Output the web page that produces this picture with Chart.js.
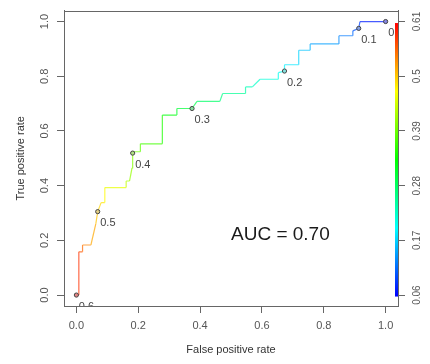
<!DOCTYPE html>
<html><head><meta charset="utf-8">
<script src="https://cdn.jsdelivr.net/npm/chart.js@4/dist/chart.umd.min.js"></script>
<style>html,body{margin:0;padding:0;background:#fff;}canvas{display:block;}</style>
</head><body>
<canvas id="c" width="430" height="364"></canvas>
<script>
// ROC curve vertices (false positive rate, true positive rate) and cutoff at each vertex
const fpr = [0, 0.008, 0.008, 0.020, 0.020, 0.047, 0.063, 0.069, 0.080, 0.092, 0.092, 0.161, 0.161, 0.172, 0.180, 0.182,
  0.182, 0.207, 0.207, 0.278, 0.278, 0.325, 0.325, 0.374, 0.390, 0.464, 0.473, 0.547, 0.547, 0.569, 0.594, 0.653, 0.653,
  0.673, 0.673, 0.719, 0.719, 0.756, 0.756, 0.849, 0.849, 0.894, 0.894, 0.913, 0.917, 1.000];
const tpr = [0, 0, 0.158, 0.158, 0.183, 0.183, 0.261, 0.305, 0.338, 0.338, 0.393, 0.393, 0.417, 0.417, 0.465, 0.519,
  0.524, 0.524, 0.553, 0.553, 0.658, 0.658, 0.682, 0.682, 0.708, 0.708, 0.737, 0.737, 0.761, 0.761, 0.789, 0.789, 0.813,
  0.819, 0.842, 0.842, 0.895, 0.895, 0.918, 0.918, 0.948, 0.948, 0.966, 0.975, 1.0, 1.0];
const cutoff = [0.61, 0.60, 0.57, 0.56, 0.55, 0.53, 0.51, 0.50, 0.49, 0.48, 0.47, 0.45, 0.43, 0.42, 0.41, 0.40,
  0.395, 0.39, 0.38, 0.36, 0.34, 0.32, 0.31, 0.30, 0.29, 0.27, 0.26, 0.25, 0.24, 0.23, 0.225, 0.21, 0.205,
  0.20, 0.19, 0.18, 0.17, 0.16, 0.15, 0.14, 0.13, 0.12, 0.11, 0.10, 0.09, 0.06];
// Printed cutoffs: vertex index and label
const markIndex = [0, 7, 15, 23, 33, 43, 45];
const markLabels = ['0.6', '0.5', '0.4', '0.3', '0.2', '0.1', '0'];
// Axes
const xTicks = [0, 0.2, 0.4, 0.6, 0.8, 1.0];
const yTicks = [0, 0.2, 0.4, 0.6, 0.8, 1.0];
const cbTicks = [0.06, 0.17, 0.28, 0.39, 0.5, 0.61];
const cbLabels = ['0.06', '0.17', '0.28', '0.39', '0.5', '0.61'];
const aucText = 'AUC = 0.70';
const xTitle = 'False positive rate';
const yTitle = 'True positive rate';

const FONT = "'Liberation Sans', Arial, sans-serif";
const cMin = cbTicks[0], cMax = cbTicks[cbTicks.length - 1];
const PAD = 0.04;
function hueOf(c) { let t = (cMax - c) / (cMax - cMin); t = Math.max(0, Math.min(1, t)); return t * 240; }
function lineColor(c) { return 'hsl(' + hueOf(c).toFixed(1) + ',100%,64%)'; }
function pointFill(c) { return 'hsl(' + hueOf(c).toFixed(1) + ',60%,70%)'; }
function barColor(c) { return 'hsl(' + hueOf(c).toFixed(1) + ',100%,50%)'; }

const deco = {
  id: 'deco',
  beforeDatasetsDraw(chart) {
    const { ctx, chartArea: a } = chart;
    ctx.save();
    ctx.strokeStyle = '#666'; ctx.lineWidth = 1;
    ctx.strokeRect(Math.round(a.left) + 0.5, Math.round(a.top) + 0.5, Math.round(a.right - a.left), Math.round(a.bottom - a.top));
    ctx.restore();
  },
  afterDatasetsDraw(chart) {
    const { ctx, chartArea: a, scales } = chart;
    const xs = scales.x, ys = scales.y;
    ctx.save();
    ctx.beginPath(); ctx.rect(a.left, a.top, a.right - a.left, a.bottom - a.top); ctx.clip();
    ctx.font = '11px ' + FONT; ctx.fillStyle = '#444';
    ctx.textAlign = 'left'; ctx.textBaseline = 'middle';
    markIndex.forEach((idx, k) => {
      const px = xs.getPixelForValue(fpr[idx]), py = ys.getPixelForValue(tpr[idx]);
      ctx.fillText(markLabels[k], px + 2.5, py + 11.5);
    });
    ctx.font = '19px ' + FONT; ctx.fillStyle = '#1a1a1a';
    ctx.fillText(aucText, xs.getPixelForValue(0.50), ys.getPixelForValue(0.221));
    ctx.restore();
  },
  afterDraw(chart) {
    const { ctx, chartArea: a, scales } = chart;
    const s = scales.y2;
    const top = s.getPixelForValue(cMax) + 1.5, bot = s.getPixelForValue(cMin) + 1.5;
    const g = ctx.createLinearGradient(0, top, 0, bot);
    for (let i = 0; i <= 24; i++) {
      const t = i / 24;
      g.addColorStop(t, barColor(cMax - t * (cMax - cMin)));
    }
    ctx.save();
    ctx.fillStyle = g;
    ctx.fillRect(Math.round(a.right) - 3, top, 3, bot - top);
    ctx.restore();
  }
};

const tickFont = { family: FONT, size: 11 };
new Chart(document.getElementById('c'), {
  type: 'scatter',
  data: {
    datasets: [{
      data: fpr.map((x, i) => ({ x: x, y: tpr[i] })),
      showLine: true,
      borderWidth: 1.2,
      borderColor: lineColor(cutoff[0]),
      segment: { borderColor: c => lineColor((cutoff[c.p0DataIndex] + cutoff[c.p1DataIndex]) / 2) },
      pointRadius: fpr.map((_, i) => markIndex.includes(i) ? 2.1 : 0),
      pointBorderColor: '#444',
      pointBorderWidth: 1,
      pointBackgroundColor: fpr.map((_, i) => pointFill(cutoff[i]))
    }]
  },
  options: {
    responsive: false, animation: false, events: [],
    devicePixelRatio: 1,
    layout: { padding: { top: 8, left: 0, right: 0, bottom: 0 } },
    plugins: { legend: { display: false }, tooltip: { enabled: false } },
    scales: {
      x: {
        type: 'linear', position: 'bottom', min: -PAD, max: 1 + PAD,
        afterBuildTicks: s => { s.ticks = xTicks.map(v => ({ value: v })); },
        afterFit: s => { s.height = 58; },
        ticks: { callback: v => Number(v).toFixed(1), font: tickFont, color: '#555', padding: 6.5, autoSkip: false, maxRotation: 0 },
        grid: { drawOnChartArea: false, drawTicks: true, tickLength: 7, color: '#666' },
        border: { display: true, color: '#666' },
        title: { display: true, text: xTitle, font: { family: FONT, size: 11 }, color: '#333', padding: { top: 0, bottom: 7.4 } }
      },
      y: {
        type: 'linear', position: 'left', min: -PAD, max: 1 + PAD,
        afterBuildTicks: s => { s.ticks = yTicks.map(v => ({ value: v })); },
        afterFit: s => { s.width = 64; },
        ticks: { callback: v => Number(v).toFixed(1), font: tickFont, color: '#555', padding: 4, autoSkip: false, minRotation: 90, maxRotation: 90, crossAlign: 'center' },
        grid: { drawOnChartArea: false, drawTicks: true, tickLength: 7, color: '#666' },
        border: { display: true, color: '#666' },
        title: { display: true, text: yTitle, font: { family: FONT, size: 11 }, color: '#333', padding: { top: 14.5, bottom: 0 } }
      },
      y2: {
        type: 'linear', position: 'right',
        min: cMin - PAD * (cMax - cMin), max: cMax + PAD * (cMax - cMin),
        afterBuildTicks: s => { s.ticks = cbTicks.map(v => ({ value: v })); },
        afterFit: s => { s.width = 32; },
        ticks: { callback: (v, i) => cbLabels[i], font: { family: FONT, size: 10 }, color: '#555', padding: 2.5, autoSkip: false, minRotation: 90, maxRotation: 90, crossAlign: 'center' },
        grid: { drawOnChartArea: false, drawTicks: true, tickLength: 7, color: '#666' },
        border: { display: true, color: '#666' }
      }
    }
  },
  plugins: [deco]
});
</script>
</body></html>
